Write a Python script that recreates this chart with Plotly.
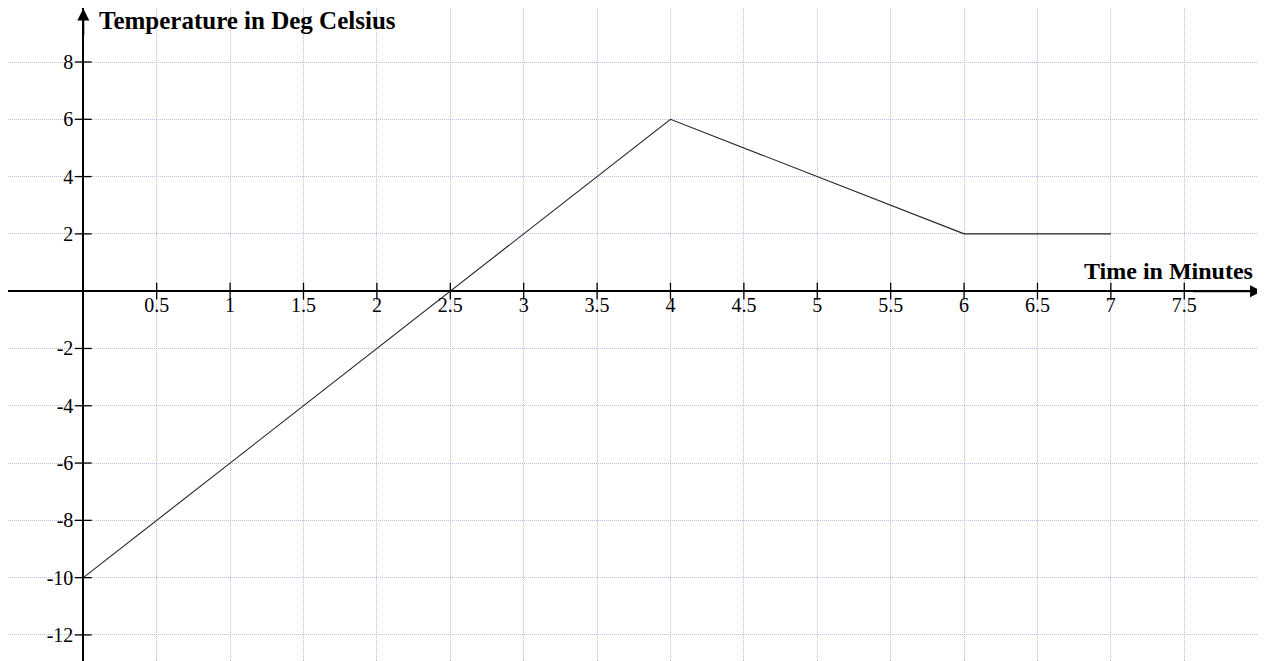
import plotly.graph_objects as go

# Data
time_min = [0, 2.5, 4, 6, 7]
temp_c = [-10, 0, 6, 2, 2]
x_ticks = [0.5, 1, 1.5, 2, 2.5, 3, 3.5, 4, 4.5, 5, 5.5, 6, 6.5, 7, 7.5]
x_tick_text = ["0.5", "1", "1.5", "2", "2.5", "3", "3.5", "4", "4.5", "5", "5.5", "6", "6.5", "7", "7.5"]
y_ticks = [8, 6, 4, 2, -2, -4, -6, -8, -10, -12]
y_tick_text = ["8", "6", "4", "2", "-2", "-4", "-6", "-8", "-10", "-12"]
x_title = "Time in Minutes"
y_title = "Temperature in Deg Celsius"

# page body has an 8px margin, so the figure is sized to the visible area
XMIN, XMAX = -0.513, 8.05
YMIN, YMAX = -12.91, 9.885

grid_col = "rgb(190,190,235)"
serif = "Liberation Serif, Times New Roman, serif"

fig = go.Figure()

# crossing tick marks on the axes
fig.add_trace(go.Scatter(x=x_ticks, y=[0] * len(x_ticks), mode="markers",
                         marker=dict(symbol="line-ns", size=12, line=dict(width=1.3, color="black")),
                         hoverinfo="skip", showlegend=False))
fig.add_trace(go.Scatter(x=[0] * len(y_ticks), y=y_ticks, mode="markers",
                         marker=dict(symbol="line-ew", size=12, line=dict(width=1.3, color="black")),
                         hoverinfo="skip", showlegend=False))

fig.add_trace(go.Scatter(x=time_min, y=temp_c, mode="lines",
                         line=dict(color="#222222", width=1.1), showlegend=False))

fig.update_layout(
    width=1257, height=653, autosize=False,
    margin=dict(l=0, r=0, t=0, b=0, pad=0, autoexpand=False),
    paper_bgcolor="white", plot_bgcolor="white",
    font=dict(family=serif, size=20, color="black"),
    xaxis=dict(range=[XMIN, XMAX], tickvals=x_ticks, ticktext=x_tick_text,
               showgrid=True, gridcolor=grid_col, griddash="1px,1px", gridwidth=1,
               zeroline=True, zerolinecolor="black", zerolinewidth=2,
               showline=False, ticks="", anchor="free",
               position=(0 - YMIN) / (YMAX - YMIN), ticklabelstandoff=0,
               tickfont=dict(family=serif, size=20)),
    yaxis=dict(range=[YMIN, YMAX], tickvals=y_ticks, ticktext=y_tick_text,
               showgrid=True, gridcolor=grid_col, griddash="1px,1px", gridwidth=1,
               zeroline=True, zerolinecolor="black", zerolinewidth=2,
               showline=False, ticks="", anchor="free",
               position=(0 - XMIN) / (XMAX - XMIN), ticklabelstandoff=10,
               tickfont=dict(family=serif, size=20)),
)

# axis arrowheads
fig.add_annotation(x=0, y=YMAX - 0.02, ax=0, ay=YMAX - 1.0, xref="x", yref="y", axref="x", ayref="y",
                   showarrow=True, arrowhead=2, arrowsize=1.2, arrowwidth=2, arrowcolor="black", text="")
fig.add_annotation(x=XMAX - 0.02, y=0, ax=XMAX - 0.5, ay=0, xref="x", yref="y", axref="x", ayref="y",
                   showarrow=True, arrowhead=2, arrowsize=1.2, arrowwidth=2, arrowcolor="black", text="")

# axis titles
fig.add_annotation(x=0.093, y=9.44, xref="x", yref="y", text="<b>" + y_title + "</b>",
                   showarrow=False, xanchor="left", yanchor="middle",
                   font=dict(family=serif, size=25, color="black"))
fig.add_annotation(x=7.98, y=0.70, xref="x", yref="y", text="<b>" + x_title + "</b>",
                   showarrow=False, xanchor="right", yanchor="middle",
                   font=dict(family=serif, size=24, color="black"))

fig.write_html("out.html")
